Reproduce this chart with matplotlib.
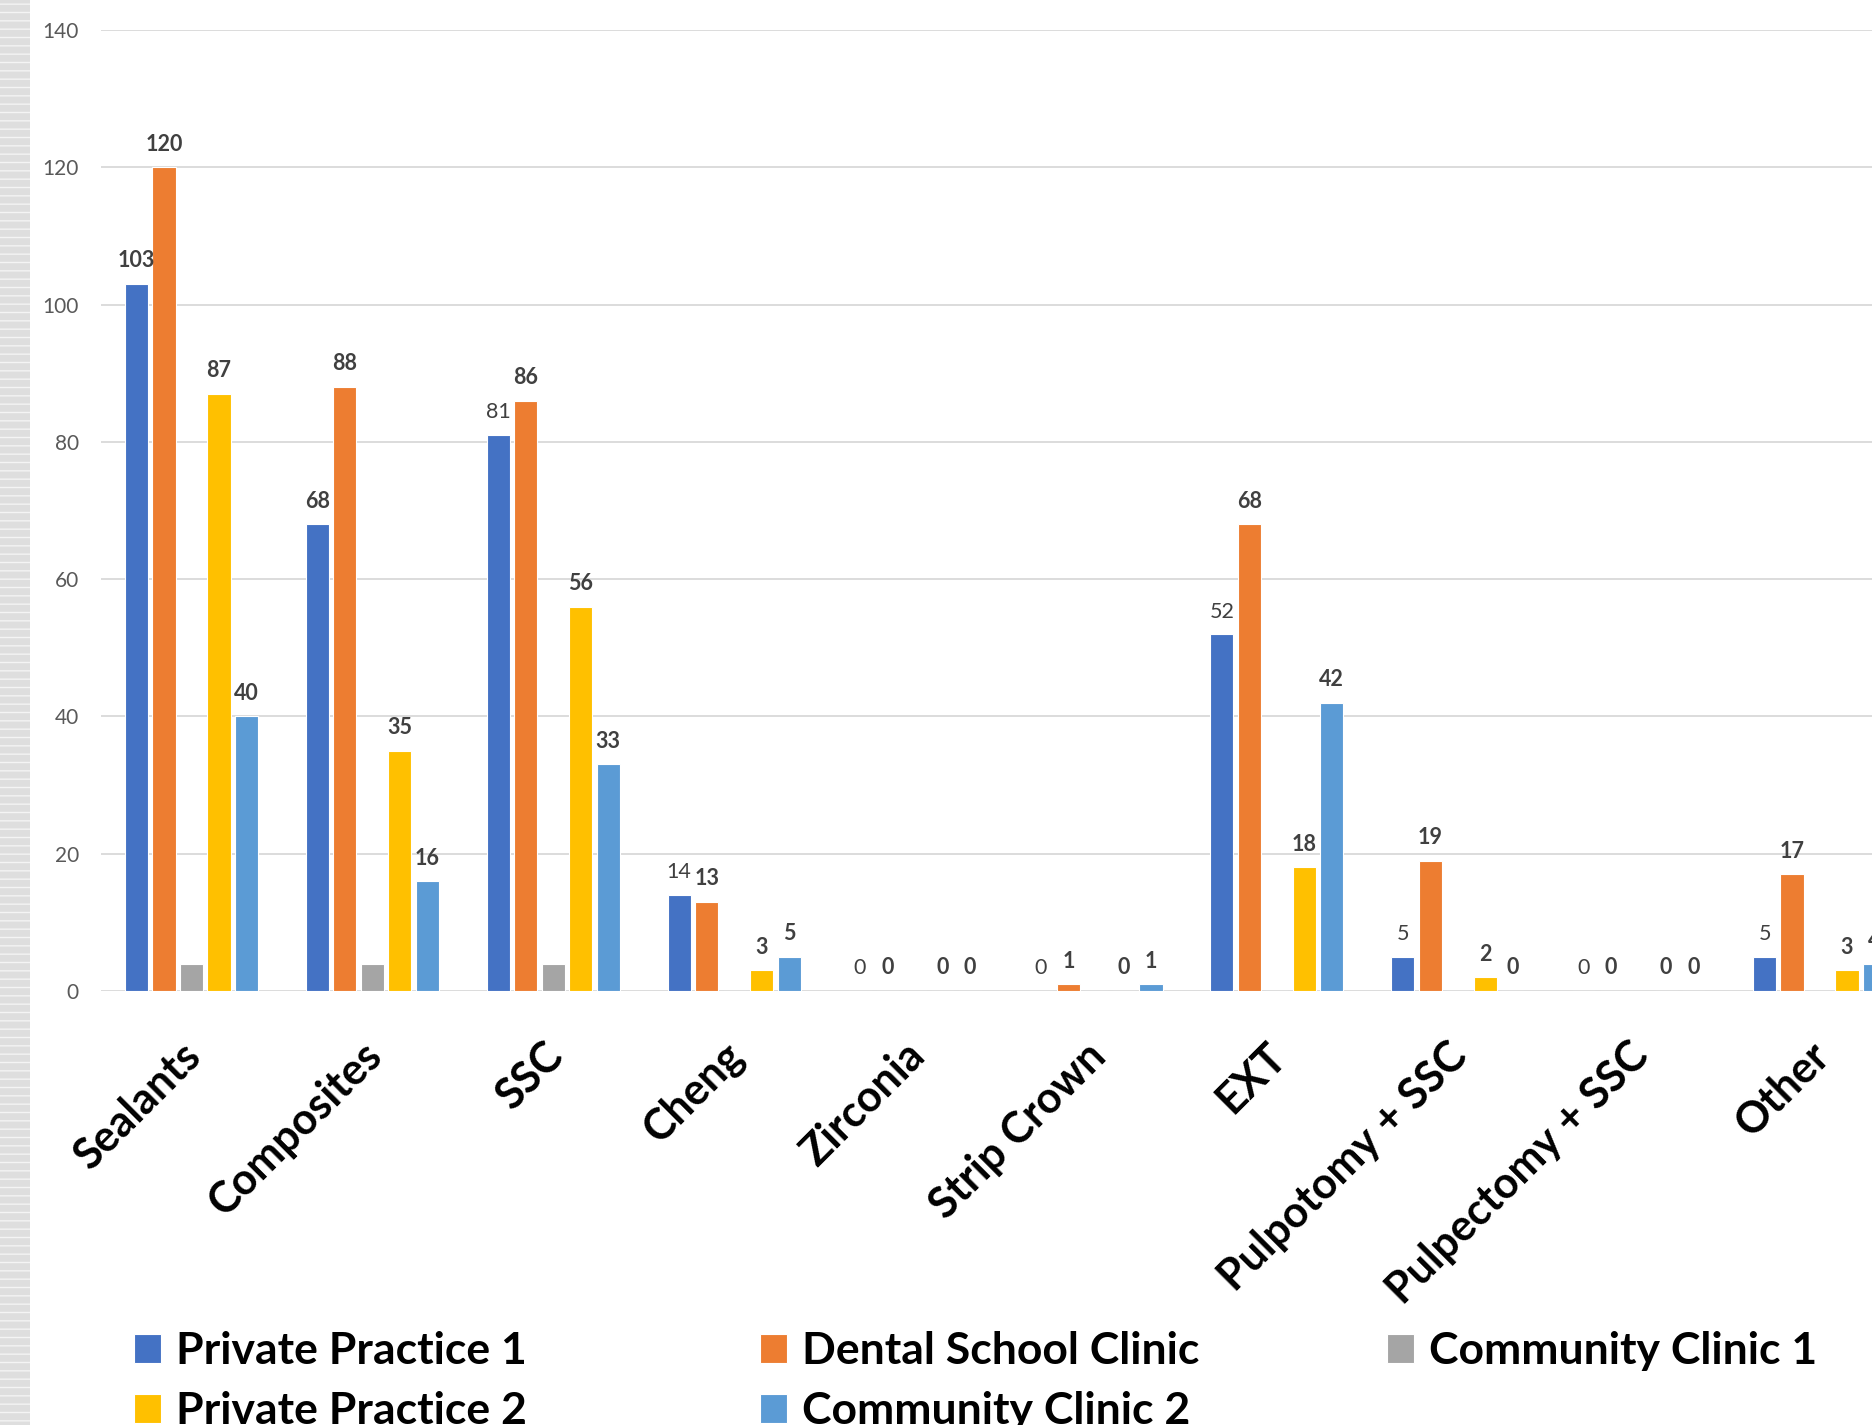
import matplotlib
matplotlib.use("Agg")
import matplotlib.pyplot as plt
from matplotlib.patches import Rectangle
import numpy as np

plt.rcParams['font.family'] = ['Lato', 'DejaVu Sans']

# categories and series
categories = ['Sealants', 'Composites', 'SSC', 'Cheng', 'Zirconia', 'Strip Crown',
              'EXT', 'Pulpotomy + SSC', 'Pulpectomy + SSC', 'Other']
private_practice_1 = [103, 68, 81, 14, 0, 0, 52, 5, 0, 5]
dental_school = [120, 88, 86, 13, 0, 1, 68, 19, 0, 17]
community_clinic_1 = [4, 4, 4, 0, 0, 0, 0, 0, 0, 0]
private_practice_2 = [87, 35, 56, 3, 0, 0, 18, 2, 0, 3]
community_clinic_2 = [40, 16, 33, 5, 0, 1, 42, 0, 0, 4]

series_names = ['Private Practice 1', 'Dental School Clinic', 'Community Clinic 1',
                'Private Practice 2', 'Community Clinic 2']
series_vals = [private_practice_1, dental_school, community_clinic_1,
               private_practice_2, community_clinic_2]
colors = ['#4472C4', '#ED7D31', '#A5A5A5', '#FFC000', '#5B9BD5']
# which blue labels are bold in the original
pp1_bold = [True, True, False, False, False, False, False, False, False, False]

fig = plt.figure(figsize=(18.72, 14.25), dpi=100)
fig.patch.set_facecolor('white')

# grey striped strip at the left edge of the screenshot
fig.add_artist(Rectangle((0, 0), 30 / 1872, 1, transform=fig.transFigure,
                         facecolor='#dedede', edgecolor='#f4f4f4', hatch='--', lw=0))

ax = fig.add_axes([101 / 1872, 434 / 1425, 1809 / 1872, 961 / 1425])

x = np.arange(len(categories))
step = 0.152
width = 0.128
bars = []
for k, (name, vals, col) in enumerate(zip(series_names, series_vals, colors)):
    pos = x + (k - 2) * step
    b = ax.bar(pos, vals, width, color=col, edgecolor='white', linewidth=0.8, label=name)
    bars.append(b)
    if k == 2:
        continue
    for i, v in enumerate(vals):
        bold = pp1_bold[i] if k == 0 else True
        ax.annotate(str(v), xy=(pos[i], v), xytext=(0, 9), textcoords='offset points',
                    ha='center', va='bottom', fontsize=15.5,
                    fontweight='bold' if bold else 'normal', color='#404040')

ax.set_xlim(-0.5, 9.5)
ax.set_ylim(0, 140)
ax.set_yticks(np.arange(0, 141, 20))
ax.tick_params(axis='y', length=0, pad=16, labelsize=15, labelcolor='#595959')
ax.set_xticks([])
for s in ax.spines.values():
    s.set_visible(False)
ax.grid(axis='y', color='#d9d9d9', linewidth=1.3)
ax.set_axisbelow(True)

for i, c in enumerate(categories):
    ax.annotate(c, xy=(i, 0), xycoords=('data', 'axes fraction'), xytext=(2, -42),
                textcoords='offset points', rotation=45, rotation_mode='anchor',
                ha='right', va='center', fontsize=31, fontweight='bold', color='black')

# legend, three columns laid out like the original
groups = [[0, 3], [1, 4], [2]]
xs = [134 / 1872, 760 / 1872, 1387 / 1872]
for g, lx in zip(groups, xs):
    leg = fig.legend([bars[j] for j in g], [series_names[j] for j in g],
                     loc='upper left', bbox_to_anchor=(lx, 1 - 1331 / 1425),
                     frameon=False, ncol=1, handlelength=0.6, handleheight=0.65,
                     handletextpad=0.35, labelspacing=0.45, borderpad=0, borderaxespad=0,
                     prop={'family': 'Lato', 'weight': 'bold', 'size': 32})

fig.savefig('out.png', dpi=100)
